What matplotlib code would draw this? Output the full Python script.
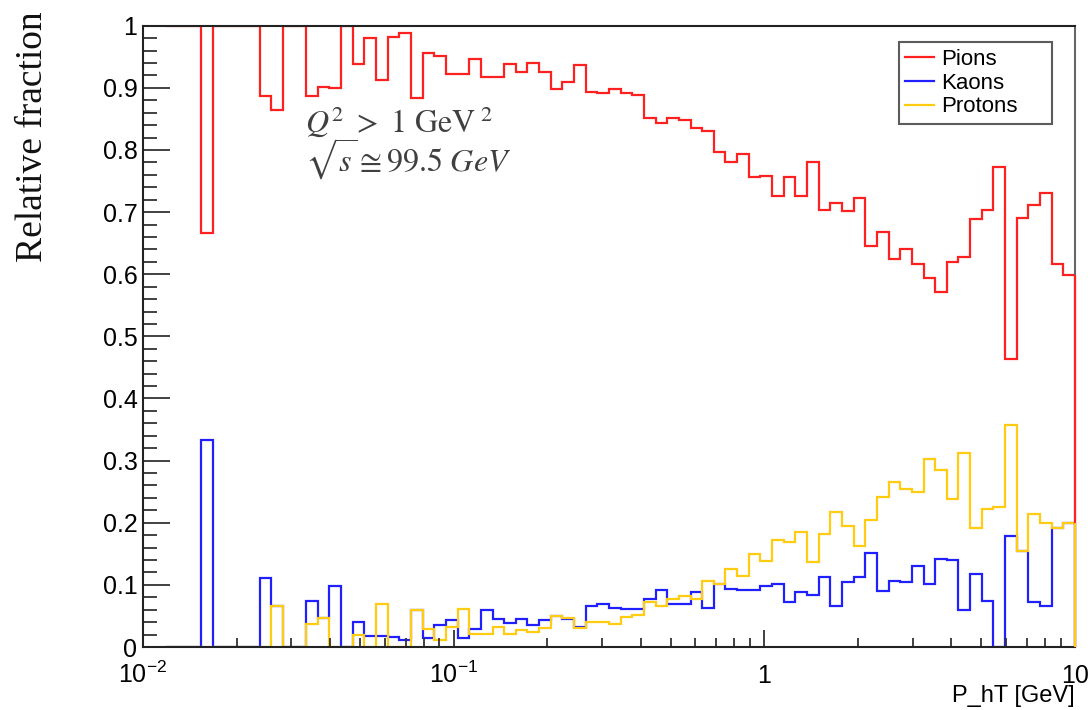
"""
Relative fraction of pions, kaons and protons vs P_hT (log binning, 80 bins
from 0.01 to 10 GeV). Writes out.png.
"""

import matplotlib

matplotlib.use("Agg")
import matplotlib.pyplot as plt
import numpy as np
from matplotlib.ticker import FixedLocator, FuncFormatter, MultipleLocator

plt.rcParams.update({
    "font.family": ["Liberation Sans", "DejaVu Sans"],
    "mathtext.fontset": "custom",
    "mathtext.rm": "Liberation Sans",
    "mathtext.it": "Liberation Sans:italic",
    "mathtext.bf": "Liberation Sans:bold",
})

# 80 log-spaced bins, 10^-2 .. 10; the first two bins are empty
EDGES = np.logspace(-2, 1, 81)
FIRST_BIN = 2

pions = [
    1.000, 1.000, 1.000, 0.667, 1.000, 1.000, 1.000, 1.000, 0.887, 0.864,
    1.000, 1.000, 0.887, 0.902, 0.900, 1.000, 0.939, 0.980, 0.912, 0.982,
    0.988, 0.883, 0.956, 0.951, 0.922, 0.922, 0.946, 0.918, 0.918, 0.938,
    0.926, 0.940, 0.926, 0.898, 0.909, 0.937, 0.893, 0.891, 0.898, 0.891,
    0.888, 0.852, 0.843, 0.852, 0.848, 0.835, 0.831, 0.796, 0.780, 0.793,
    0.757, 0.758, 0.726, 0.757, 0.726, 0.780, 0.704, 0.714, 0.701, 0.722,
    0.645, 0.668, 0.625, 0.641, 0.617, 0.594, 0.571, 0.619, 0.627, 0.689,
    0.703, 0.772, 0.464, 0.691, 0.712, 0.731, 0.617, 0.598,
]
kaons = [
    0.000, 0.000, 0.000, 0.333, 0.000, 0.000, 0.000, 0.000, 0.111, 0.066,
    0.000, 0.000, 0.074, 0.047, 0.098, 0.000, 0.040, 0.018, 0.018, 0.016,
    0.011, 0.059, 0.014, 0.035, 0.043, 0.014, 0.029, 0.059, 0.045, 0.038,
    0.045, 0.036, 0.043, 0.050, 0.045, 0.032, 0.066, 0.069, 0.063, 0.061,
    0.061, 0.077, 0.092, 0.070, 0.069, 0.088, 0.063, 0.101, 0.094, 0.091,
    0.092, 0.099, 0.102, 0.072, 0.088, 0.084, 0.113, 0.066, 0.105, 0.113,
    0.152, 0.090, 0.107, 0.104, 0.131, 0.102, 0.141, 0.140, 0.059, 0.118,
    0.074, 0.000, 0.179, 0.154, 0.073, 0.066, 0.192, 0.200,
]
protons = [
    0.000, 0.000, 0.000, 0.000, 0.000, 0.000, 0.000, 0.000, 0.000, 0.066,
    0.000, 0.000, 0.037, 0.047, 0.000, 0.000, 0.020, 0.000, 0.069, 0.000,
    0.000, 0.059, 0.029, 0.012, 0.033, 0.062, 0.021, 0.021, 0.033, 0.021,
    0.027, 0.024, 0.031, 0.050, 0.046, 0.031, 0.040, 0.040, 0.037, 0.049,
    0.051, 0.072, 0.066, 0.077, 0.082, 0.077, 0.106, 0.101, 0.125, 0.115,
    0.150, 0.138, 0.173, 0.169, 0.185, 0.137, 0.182, 0.218, 0.195, 0.162,
    0.205, 0.241, 0.266, 0.255, 0.250, 0.303, 0.285, 0.239, 0.313, 0.191,
    0.222, 0.226, 0.357, 0.154, 0.214, 0.200, 0.192, 0.200,
]

series = [
    ("Pions", pions, "#ff2020"),
    ("Kaons", kaons, "#2020ff"),
    ("Protons", protons, "#ffcc11"),
]

x_major = [1e-2, 1e-1, 1, 10]
x_major_labels = ["$10^{-2}$", "$10^{-1}$", "1", "10"]

fig = plt.figure(figsize=(10.91, 7.10), dpi=100)
ax = fig.add_axes([0.1311, 0.0887, 0.8542, 0.8751])

edges = EDGES[FIRST_BIN:]
for name, vals, color in series:
    vals = np.asarray(vals)
    ax.stairs(vals, edges, baseline=None, color=color, lw=1.6, label=name)
    # closing edge of the histogram at the upper limit
    ax.vlines(edges[-1], 0, vals[-1], color=color, lw=1.6, zorder=3,
              clip_on=False)

ax.set_xscale("log")
ax.set_xlim(EDGES[0], EDGES[-1])
ax.set_ylim(0, 1)

# axes frame and ticks
for side in ("left", "bottom", "top"):
    ax.spines[side].set_color("#222222")
    ax.spines[side].set_linewidth(1.5)
ax.spines["right"].set_color("#666666")
ax.spines["right"].set_linewidth(1.5)

ax.yaxis.set_major_locator(MultipleLocator(0.1))
ax.yaxis.set_minor_locator(MultipleLocator(0.02))
ax.yaxis.set_major_formatter(FuncFormatter(lambda v, _: f"{v:g}"))
ax.tick_params(axis="y", which="major", direction="in", length=19.5,
               width=1.3, color="#333333", labelsize=18, pad=4)
ax.tick_params(axis="y", which="minor", direction="in", length=10,
               width=1.3, color="#333333")

minor_x = [m * 10.0 ** e for e in (-2, -1, 0) for m in range(2, 10)]
ax.xaxis.set_major_locator(FixedLocator(x_major))
ax.xaxis.set_minor_locator(FixedLocator(minor_x))
ax.set_xticklabels(x_major_labels)
ax.xaxis.set_minor_formatter(FuncFormatter(lambda v, _: ""))
ax.tick_params(axis="x", which="major", direction="in", length=12.5,
               width=1.3, color="#333333", labelsize=18, pad=26)
ax.tick_params(axis="x", which="minor", direction="in", length=6.5,
               width=1.3, color="#333333")
for lbl in ax.get_xticklabels():
    lbl.set_verticalalignment("baseline")

ax.set_xlabel("P_hT [GeV]", fontsize=17)
ax.xaxis.set_label_coords(1.0, -0.061)
ax.xaxis.label.set_horizontalalignment("right")
ax.xaxis.label.set_verticalalignment("top")

fig.text(33 / 1091, 1 - 137 / 710, "Relative fraction", rotation=90,
         ha="center", va="center", fontsize=27,
         family=["Liberation Serif", "DejaVu Serif"], color="#111111")

# kinematic cuts, two lines in one text block (anchored on the last baseline)
ax.text(0.174, 0.765,
        r"$Q^2 \ >\ 1\ \mathrm{GeV}^{\ 2}$" + "\n" + r"$\sqrt{s}\cong 99.5\ GeV$",
        transform=ax.transAxes, fontsize=23, color="#404040",
        va="baseline", linespacing=0.92, math_fontfamily="stix")

leg = ax.legend(loc="upper left", bbox_to_anchor=(0.811, 0.849, 0.164, 0.124),
                mode="expand", fontsize=16, frameon=True, fancybox=False,
                handlelength=1.3, handletextpad=0.3, borderpad=0.3,
                labelspacing=0.12, borderaxespad=0)
leg.get_frame().set_edgecolor("#333333")
leg.get_frame().set_linewidth(1.5)
for h in leg.get_lines():
    h.set_linewidth(1.6)

fig.savefig("out.png", dpi=100)
